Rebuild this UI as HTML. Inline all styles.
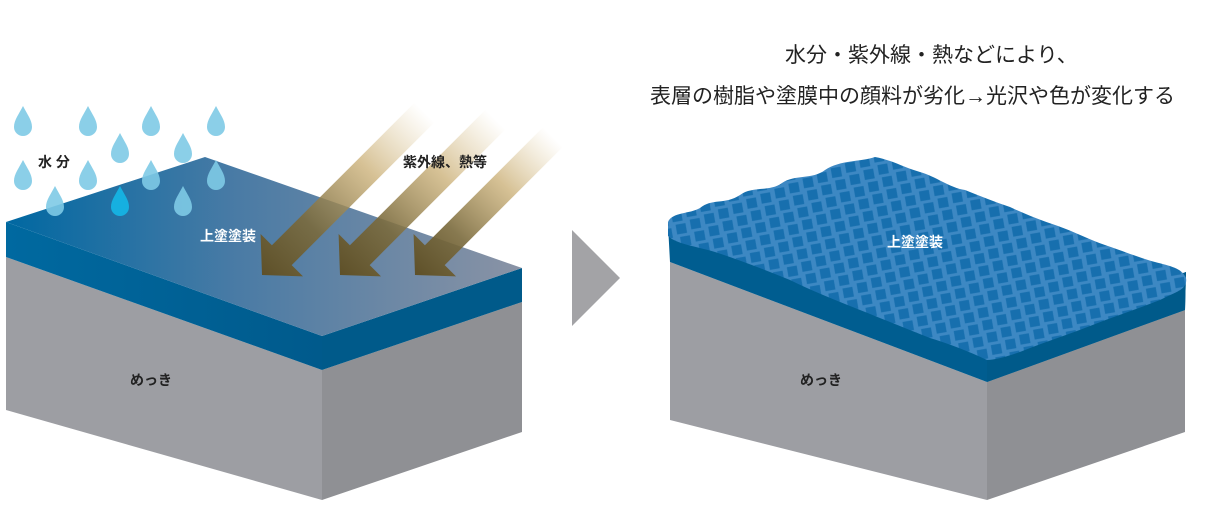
<!DOCTYPE html>
<html><head><meta charset="utf-8"><style>
html,body{margin:0;padding:0;background:#fff;}
body{width:1209px;height:518px;overflow:hidden;position:relative;font-family:"Liberation Sans","Noto Sans CJK JP",sans-serif;}
.t{position:absolute;white-space:nowrap;}
</style></head><body>
<svg width="1209" height="518" viewBox="0 0 1209 518" style="position:absolute;left:0;top:0">
<defs>
<linearGradient id="topL" x1="0" y1="0" x2="1" y2="0">
<stop offset="0" stop-color="#0068a2"/><stop offset="0.45" stop-color="#4a7ba5"/><stop offset="1" stop-color="#8a93a5"/>
</linearGradient>
<linearGradient id="bandL" x1="0" y1="0" x2="1" y2="0">
<stop offset="0" stop-color="#0069a0"/><stop offset="1" stop-color="#005a8c"/>
</linearGradient>
<linearGradient id="arr2" x1="1" y1="0" x2="0" y2="0">
<stop offset="0" stop-color="#d8c08a" stop-opacity="0"/><stop offset="0.35" stop-color="#c9ad72" stop-opacity="0.75"/><stop offset="0.7" stop-color="#7a6a3c" stop-opacity="0.9"/><stop offset="1" stop-color="#5e5028"/>
</linearGradient>
<pattern id="chips" width="15" height="13" patternUnits="userSpaceOnUse" patternTransform="rotate(-20)">
<rect x="0" y="0" width="15" height="13" fill="#3d88c3"/>
<rect x="2" y="1" width="10" height="10" fill="#176fae" transform="rotate(10 7 6)"/>
</pattern>
</defs>

<!-- left box -->
<polygon points="6,257 322,370 322,500 6,410" fill="#9d9ea3"/>
<polygon points="322,370 522,302 522,432 322,500" fill="#8f9094"/>
<polygon points="6,222 322,336 322,370 6,257" fill="url(#bandL)"/>
<polygon points="322,336 522,268 522,302 322,370" fill="#005a8a"/>
<polygon points="6,222 205,157 522,268 322,336" fill="url(#topL)"/>

<!-- drops -->
<g fill="#7ecae6" fill-opacity="0.9">
<path id="d" d="M0,-16 C4,-8 9,-2 9,5 A9,9 0 0 1 -9,5 C-9,-2 -4,-8 0,-16Z" transform="translate(23,122)"/>
<use href="#d" x="65" y="0"/><use href="#d" x="128" y="0"/><use href="#d" x="193" y="0"/>
<use href="#d" x="97" y="27"/><use href="#d" x="160" y="27"/>
<use href="#d" x="0" y="54"/><use href="#d" x="65" y="54"/><use href="#d" x="128" y="54"/><use href="#d" x="193" y="54"/>
<use href="#d" x="32" y="80"/><use href="#d" x="160" y="80"/>
</g>
<use href="#d" x="97" y="80" fill="#16b0e0"/>

<!-- arrows -->
<g fill="url(#arr2)">
<polygon transform="translate(262,275) rotate(-45)" points="0,0 28,-30 28,-14 230,-14 230,14 28,14 28,30"/>
<polygon transform="translate(340,275) rotate(-45)" points="0,0 28,-30 28,-14 220,-14 220,14 28,14 28,30"/>
<polygon transform="translate(415,275) rotate(-45)" points="0,0 28,-30 28,-14 195,-14 195,14 28,14 28,30"/>
</g>

<!-- chevron -->
<polygon points="572,230 620,278 572,326" fill="#a3a3a6"/>

<!-- right box -->
<polygon points="670,262 987,382 987,500 670,420" fill="#9d9ea3"/>
<polygon points="987,382 1185,310 1185,432 987,500" fill="#8f9094"/>
<polygon points="668,225 987,345 1186,272 1185,310 987,382 670,262" fill="#005d90"/>
<polygon points="987,345 1186,272 1185,310 987,382" fill="#005a8a"/>
<path d="M668,222 C672,212 690,214 700,208 C712,198 725,205 740,195 C752,186 770,192 782,183 C795,174 812,180 825,170 C840,160 860,162 875,157 C892,160 905,168 920,172 C935,176 950,188 965,190 C980,196 995,202 1010,207 C1025,214 1040,220 1058,226 C1075,232 1090,240 1105,245 C1120,250 1140,258 1155,262 C1170,266 1182,268 1186,278 C1188,290 1175,292 1160,300 C1140,308 1110,318 1090,326 C1070,334 1045,342 1025,350 C1010,356 995,360 987,360 C970,352 950,344 930,338 C905,328 880,318 860,310 C835,300 810,290 790,280 C765,270 740,260 715,252 C695,246 676,244 668,236 Z" fill="url(#chips)"/>
</svg>
<div class="t" style="left:785px;top:39px;font-size:21px;color:#222">水分・紫外線・熱などにより、</div>
<div class="t" style="left:650px;top:80px;font-size:21px;color:#222">表層の樹脂や塗膜中の顔料が劣化→光沢や色が変化する</div>
<div class="t" style="left:38px;top:152px;font-size:14px;color:#222;font-weight:bold">水 分</div>
<div class="t" style="left:403px;top:152px;font-size:14px;color:#222;font-weight:bold">紫外線、熱等</div>
<div class="t" style="left:200px;top:226px;font-size:14px;color:#fff;font-weight:bold">上塗塗装</div>
<div class="t" style="left:130px;top:370px;font-size:14px;color:#222;font-weight:bold">めっき</div>
<div class="t" style="left:887px;top:232px;font-size:14px;color:#fff;font-weight:bold">上塗塗装</div>
<div class="t" style="left:800px;top:370px;font-size:14px;color:#222;font-weight:bold">めっき</div>
</body></html>
